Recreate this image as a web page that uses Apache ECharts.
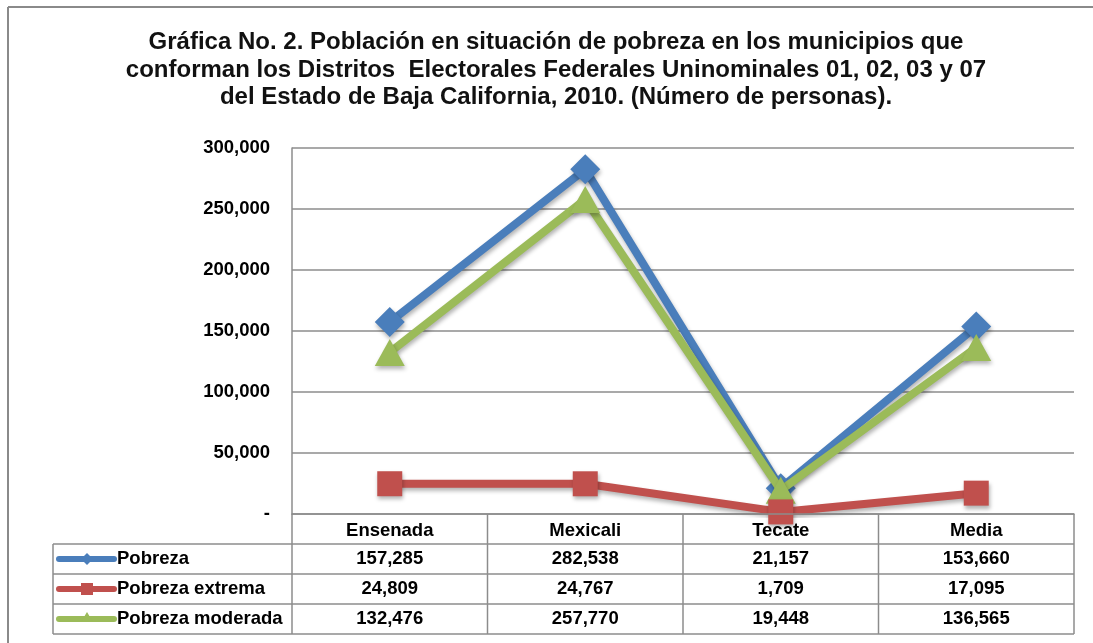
<!DOCTYPE html>
<html>
<head>
<meta charset="utf-8">
<script src="https://cdn.jsdelivr.net/npm/echarts@6/dist/echarts.min.js"></script>
<style>
  html, body { margin: 0; padding: 0; background: #fff; }
  #chart { width: 1093px; height: 643px; }
</style>
</head>
<body>
<div id="chart"></div>
<script>
// datos de la gráfica
const categories = ['Ensenada', 'Mexicali', 'Tecate', 'Media']
const seriesNames = ['Pobreza', 'Pobreza extrema', 'Pobreza moderada']
const pobreza = [157285, 282538, 21157, 153660]
const pobrezaExtrema = [24809, 24767, 1709, 17095]
const pobrezaModerada = [132476, 257770, 19448, 136565]
const yMax = 300000
const yStep = 50000

const titleText = 'Gráfica No. 2. Población en situación de pobreza en los municipios que\n' +
  'conforman los Distritos  Electorales Federales Uninominales 01, 02, 03 y 07\n' +
  'del Estado de Baja California, 2010. (Número de personas).'

// colores tipo Excel
const colors = ['#4A7EBB', '#C0504D', '#9BBB59']
const gridColor = '#8c8c8c'
const font = '"Liberation Sans", Arial, sans-serif'
const labelSize = 18.5

// área del gráfico
const L = 292, R = 1074, T = 148, B = 514
const rowH = 30
const tableLeft = 53

const fmt = v => v.toLocaleString('en-US')

let myChart = echarts.init(document.getElementById('chart'))

// tabla de datos debajo del eje
function buildTable () {
  const els = []
  const colW = (R - L) / categories.length
  const rows = [pobreza, pobrezaExtrema, pobrezaModerada]
  const lineStyle = { stroke: gridColor, lineWidth: 1.5 }
  // horizontales
  for (let i = 1; i <= rows.length + 1; i++) {
    const y = B + i * rowH
    els.push({ type: 'line', shape: { x1: tableLeft, y1: y, x2: R, y2: y }, style: lineStyle })
  }
  // verticales
  els.push({ type: 'line', shape: { x1: tableLeft, y1: B + rowH, x2: tableLeft, y2: B + rowH * 4 }, style: lineStyle })
  for (let c = 0; c <= categories.length; c++) {
    const x = L + c * colW
    els.push({ type: 'line', shape: { x1: x, y1: B, x2: x, y2: B + rowH * 4 }, style: lineStyle })
  }
  rows.forEach((row, r) => {
    const cy = B + rowH * (r + 1) + rowH / 2
    // leyenda
    els.push({ type: 'line', shape: { x1: 59, y1: cy, x2: 114, y2: cy },
      style: { stroke: colors[r], lineWidth: 6, lineCap: 'round' } })
    if (r === 0) {
      els.push({ type: 'polygon', shape: { points: [[87, cy - 6], [93, cy], [87, cy + 6], [81, cy]] }, style: { fill: colors[r] } })
    } else if (r === 1) {
      els.push({ type: 'rect', shape: { x: 81, y: cy - 6, width: 12, height: 12 }, style: { fill: colors[r] } })
    } else {
      els.push({ type: 'polygon', shape: { points: [[87, cy - 7], [93, cy + 3], [81, cy + 3]] }, style: { fill: colors[r] } })
    }
    els.push({ type: 'text', style: { text: seriesNames[r], x: 117, y: cy, verticalAlign: 'middle',
      font: 'bold ' + labelSize + 'px ' + font, fill: '#000' } })
    row.forEach((v, c) => {
      els.push({ type: 'text', style: { text: fmt(v), x: L + colW * (c + 0.5), y: cy, align: 'center',
        verticalAlign: 'middle', font: 'bold ' + labelSize + 'px ' + font, fill: '#000' } })
    })
  })
  return els
}

const lineShadow = {
  shadowBlur: 4,
  shadowOffsetX: 1,
  shadowOffsetY: 3,
  shadowColor: 'rgba(0,0,0,0.3)'
}

function makeSeries (name, data, color, symbol, size, z) {
  return {
    name: name,
    type: 'line',
    data: data,
    z: z,
    symbol: symbol,
    symbolSize: size,
    showSymbol: true,
    lineStyle: Object.assign({ color: color, width: 8 }, lineShadow),
    itemStyle: Object.assign({ color: color, opacity: 1 }, lineShadow),
    emphasis: { disabled: true },
    animation: false
  }
}

let option = {
  animation: false,
  grid: { left: L, top: T, right: 1093 - R, bottom: 643 - B, containLabel: false },
  xAxis: {
    type: 'category',
    data: categories,
    boundaryGap: true,
    axisLine: { show: true, lineStyle: { color: gridColor, width: 1.5 } },
    axisTick: { show: false },
    axisLabel: { margin: 7, fontSize: labelSize, fontWeight: 'bold', color: '#000', fontFamily: font },
    z: 10
  },
  yAxis: {
    type: 'value',
    min: 0,
    max: yMax,
    interval: yStep,
    axisLine: { show: true, lineStyle: { color: gridColor, width: 1.5 } },
    axisTick: { show: false },
    splitLine: { lineStyle: { color: gridColor, width: 1.5 } },
    axisLabel: {
      margin: 22,
      fontSize: labelSize,
      fontWeight: 'bold',
      color: '#000',
      fontFamily: font,
      formatter: v => v === 0 ? '-' : fmt(v)
    }
  },
  series: [
    makeSeries(seriesNames[0], pobreza, colors[0], 'diamond', [30, 30], 2),
    makeSeries(seriesNames[2], pobrezaModerada, colors[2], 'triangle', [30, 27], 3),
    makeSeries(seriesNames[1], pobrezaExtrema, colors[1], 'rect', 25, 4)
  ],
  graphic: [
    // marco exterior
    { type: 'line', shape: { x1: 8, y1: 7, x2: 1093, y2: 7 }, style: { stroke: '#8a8a8a', lineWidth: 2 } },
    { type: 'line', shape: { x1: 8, y1: 7, x2: 8, y2: 643 }, style: { stroke: '#8a8a8a', lineWidth: 2 } },
    // título
    { type: 'text', style: { text: titleText, x: 556, y: 29, align: 'center', verticalAlign: 'top',
      lineHeight: 27.5, font: 'bold 24px ' + font, fill: '#111' } }
  ].concat(buildTable())
}
myChart.setOption(option)
</script>
</body>
</html>
